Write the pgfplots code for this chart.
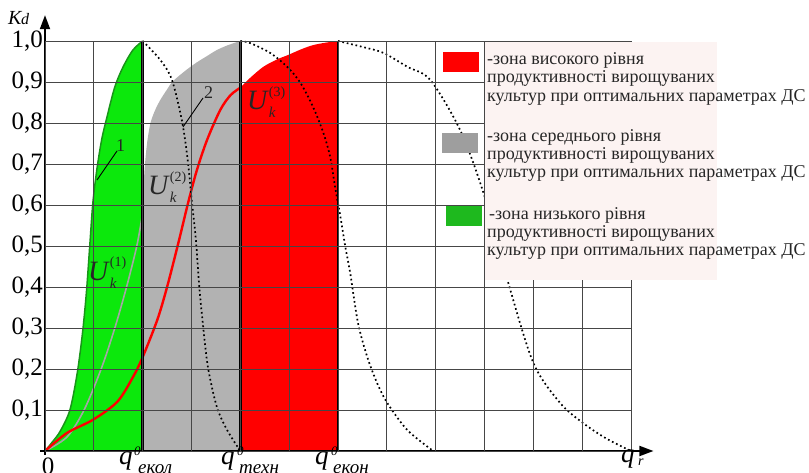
\documentclass[border=0pt]{standalone}
\usepackage{fontspec}
\setmainfont{Liberation Serif}
\usepackage{pgfplots}
\pgfplotsset{compat=1.18}
\usetikzlibrary{arrows.meta}

\definecolor{zgreen}{RGB}{12,232,12}
\definecolor{zgreenline}{RGB}{25,150,25}
\definecolor{zgreenkey}{RGB}{30,185,30}
\definecolor{zgrey}{RGB}{178,178,178}
\definecolor{zgreyline}{RGB}{165,165,165}
\definecolor{zgreykey}{RGB}{158,158,158}
\definecolor{zred}{RGB}{255,0,0}
\definecolor{zpink}{RGB}{252,243,242}
\definecolor{gridc}{RGB}{70,70,70}

\newcommand\fs[1]{\fontsize{#1}{#1}\selectfont}
\newcommand\Ulab[1]{{\fs{28}\itshape U}\kern1.5pt\rlap{\raisebox{13pt}{\fs{14}(#1)}}\raisebox{-8pt}{\fs{15}\itshape k}}

\begin{document}
\begin{tikzpicture}
\useasboundingbox (0,0) rectangle (809pt,472pt);
\begin{axis}[
    at={(45pt,21pt)}, anchor=south west,
    scale only axis, width=586pt, height=410pt,
    xmin=0, xmax=12, ymin=0, ymax=1,
    axis on top, clip=false,
    axis line style={draw=none}, tick style={draw=none},
    grid=major, grid style={gridc, line width=0.9pt},
    xtick={0,...,12}, xticklabels={},
    ytick={0,0.1,0.2,0.3,0.4,0.5,0.6,0.7,0.8,0.9,1},
    yticklabels={{},{0,1},{0,2},{0,3},{0,4},{0,5},{0,6},{0,7},{0,8},{0,9},{1,0}},
    yticklabel style={font=\fs{25}, anchor=east, inner sep=0pt, xshift=-2pt},
]
% zones
\addplot[fill=zgreen, draw=none, smooth] coordinates {
    (0,0) (0.15,0.022) (0.31,0.048) (0.51,0.1) (0.66,0.19) (0.77,0.29) (0.85,0.39)
    (0.92,0.507) (0.98,0.605) (1.06,0.685) (1.16,0.759) (1.27,0.815) (1.43,0.888)
    (1.6,0.937) (1.8,0.978) (2,1)
} \closedcycle;
\addplot[fill=zgrey, draw=none, smooth] coordinates {
    (2,0.6) (2.03,0.67) (2.06,0.717) (2.1,0.76) (2.16,0.8) (2.25,0.83) (2.36,0.856)
    (2.5,0.882) (2.62,0.902) (2.9,0.93) (3.11,0.948) (3.3,0.962) (3.52,0.978)
    (3.75,0.99) (4,1)
} \closedcycle;
\addplot[fill=zred, draw=none, smooth] coordinates {
    (4,0.886) (4.2,0.91) (4.47,0.937) (4.75,0.955) (4.98,0.966) (5.25,0.98)
    (5.49,0.99) (5.75,0.996) (6,1)
} \closedcycle;

% curves
\addplot[zgreenline, line width=1.5pt, smooth] coordinates {
    (0,0) (0.15,0.022) (0.31,0.048) (0.51,0.1) (0.66,0.19) (0.77,0.29) (0.85,0.39)
    (0.92,0.507) (0.98,0.605) (1.06,0.685) (1.16,0.759) (1.27,0.815) (1.43,0.888)
    (1.6,0.937) (1.8,0.978) (2,1)
};
\addplot[zgreyline, line width=1.6pt, smooth] coordinates {
    (0,0) (0.45,0.034) (0.8,0.1) (1.15,0.2) (1.43,0.3) (1.67,0.4) (1.88,0.5) (2,0.58)
};
\addplot[red, line width=2.4pt, smooth] coordinates {
    (0,0) (0.45,0.044) (0.98,0.076) (1.48,0.12) (1.8,0.18) (2,0.229) (2.3,0.32)
    (2.5,0.4) (2.73,0.507) (2.93,0.605) (3.11,0.685) (3.32,0.759) (3.59,0.832)
    (3.8,0.868) (4,0.886)
};

% dotted curves
\addplot[black, line width=1.7pt, dash pattern=on 1.7pt off 2.8pt, smooth] coordinates {
    (2,1) (2.36,0.954) (2.6,0.905) (2.81,0.802) (2.93,0.702) (3.01,0.605) (3.09,0.515)
    (3.16,0.4) (3.24,0.302) (3.34,0.202) (3.52,0.107) (3.73,0.051) (4,0)
};
\addplot[black, line width=1.7pt, dash pattern=on 1.7pt off 2.8pt, smooth] coordinates {
    (4,1) (4.2,0.995) (4.61,0.971) (4.96,0.937) (5.23,0.898) (5.49,0.839) (5.7,0.776)
    (5.84,0.717) (5.94,0.644) (6.05,0.571) (6.15,0.498) (6.25,0.434) (6.41,0.312)
    (6.6,0.229) (6.8,0.166) (7.01,0.117) (7.42,0.051) (7.95,0)
};
\addplot[black, line width=1.7pt, dash pattern=on 1.7pt off 2.8pt, smooth] coordinates {
    (6,1) (6.52,0.985) (6.93,0.971) (7.42,0.937) (7.89,0.905) (8.5,0.783) (8.98,0.629)
    (9.47,0.417) (10,0.215) (10.55,0.117) (11.02,0.068) (11.5,0.03) (12,0)
};

% zone borders
\addplot[black, line width=2.8pt] coordinates {(2,0) (2,1)};
\addplot[black, line width=2.8pt] coordinates {(4,0) (4,1)};
\addplot[black, line width=2.8pt] coordinates {(6,0) (6,1)};

% axes
\draw[line width=1.8pt, -{Triangle[length=14pt,width=10pt]}] (axis cs:-0.1,0) -- (axis cs:12.46,0);
\draw[line width=1.8pt, -{Triangle[length=14pt,width=10pt]}] (axis cs:0,-0.01) -- (axis cs:0,1.063);
\end{axis}

\begin{scope}[x=1pt, y=-1pt, yshift=472pt]
% legend box
\fill[zpink] (484.5,42.5) rectangle (717,280);
\fill[zred] (443,52) rectangle (479,72);
\fill[zgreykey] (442,133) rectangle (478,153);
\fill[zgreenkey] (446,206) rectangle (482,226);
\begin{scope}[every node/.style={anchor=base west, inner sep=0pt, font=\fs{18}, text=black!85}]
\node at (487,65) {-зона високого рівня};
\node at (487,83) {продуктивності вирощуваних};
\node at (487,102) {культур при оптимальних параметрах ДС};
\node at (487,142) {-зона середнього рівня};
\node at (487,160) {продуктивності вирощуваних};
\node at (487,178) {культур при оптимальних параметрах ДС};
\node at (489,220) {-зона низького рівня};
\node at (487,238) {продуктивності вирощуваних};
\node at (487,256) {культур при оптимальних параметрах ДС};
\end{scope}

% curve labels
\begin{scope}[every node/.style={anchor=base west, inner sep=0pt, text=black!85}]
\node at (88,280) {\Ulab{1}};
\node at (148,195) {\Ulab{2}};
\node at (247,110) {\Ulab{3}};
\node at (116,152) {\fs{18}1};
\node at (204,99) {\fs{18}2};
\end{scope}
\draw[black, line width=0.9pt] (97,180) -- (117,151);
\draw[black, line width=0.9pt] (183,127) -- (203,98);

% axis labels
\begin{scope}[every node/.style={anchor=base west, inner sep=0pt}]
\node at (8,25) {\fs{20}\itshape K};
\node at (21,25) {\fs{16}\itshape d};
\node[anchor=base] at (48,474) {\fs{25}0};
\node at (119,464) {\fs{27}\itshape q};
\node at (134,455) {\fs{13}\itshape 0};
\node at (138,473) {\fs{19}\itshape екол};
\node at (221,464) {\fs{27}\itshape q};
\node at (237,455) {\fs{13}\itshape 0};
\node at (239,473) {\fs{19}\itshape техн};
\node at (315,464) {\fs{27}\itshape q};
\node at (331,455) {\fs{13}\itshape 0};
\node at (333,473) {\fs{19}\itshape екон};
\node at (621,462) {\fs{27}\itshape q};
\node at (638,465) {\fs{14}\itshape r};
\end{scope}
\end{scope}
\end{tikzpicture}
\end{document}
